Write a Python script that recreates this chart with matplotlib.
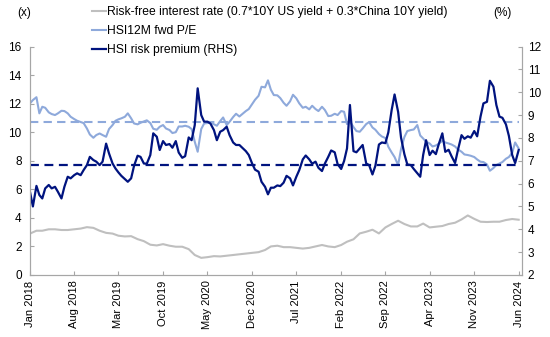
import numpy as np
import pandas as pd
import matplotlib
matplotlib.use("Agg")
import matplotlib.pyplot as plt
import matplotlib.dates as mdates

plt.rcParams['font.family'] = ['Liberation Sans', 'DejaVu Sans']
plt.rcParams['font.size'] = 9

# dates: 1st and 15th of each month (P/E, risk premium), month starts (risk-free)
half_month = pd.date_range('2018-01-01', periods=155, freq='SMS')
month = pd.date_range('2018-01-01', periods=78, freq='MS')

# HSI 12M fwd P/E (x), left axis
pe = [
    12.02, 12.25, 12.45, 11.32, 11.78, 11.71, 11.39, 11.27, 11.2, 11.32, 11.5, 11.48,
    11.32, 11.08, 10.92, 10.8, 10.71, 10.64, 10.26, 9.84, 9.61, 9.8, 9.91, 9.8,
    9.68, 10.22, 10.5, 10.8, 10.9, 10.97, 11.08, 11.32, 10.97, 10.61, 10.55, 10.66,
    10.75, 10.83, 10.64, 10.24, 10.17, 10.38, 10.5, 10.26, 10.15, 9.94, 10.0, 10.4,
    10.4, 10.45, 10.38, 10.22, 9.33, 8.63, 10.22, 10.61, 10.64, 10.68, 10.55, 10.45,
    10.78, 11.03, 10.5, 10.73, 11.06, 11.29, 11.1, 11.27, 11.48, 11.62, 11.97, 12.27,
    12.55, 13.18, 13.14, 13.63, 12.97, 12.6, 12.58, 12.39, 12.06, 11.85, 12.16, 12.62,
    12.37, 12.02, 11.71, 11.78, 11.6, 11.85, 11.62, 11.48, 11.78, 11.55, 11.13, 11.15,
    11.29, 11.2, 11.48, 11.43, 10.57, 10.75, 10.36, 10.08, 10.03, 10.26, 10.57, 10.71,
    10.33, 10.17, 9.87, 9.7, 9.59, 8.98, 8.58, 8.26, 7.7, 8.82, 9.66, 10.08,
    10.15, 10.19, 10.5, 9.77, 9.56, 9.33, 9.21, 9.0, 9.07, 9.19, 9.4, 9.28,
    9.21, 9.14, 9.0, 8.79, 8.63, 8.44, 8.4, 8.35, 8.26, 8.09, 7.93, 7.91,
    7.74, 7.3, 7.49, 7.7, 7.81, 7.91, 8.14, 8.26, 8.56, 9.28, 8.86,
]

# HSI risk premium (%), right axis
risk_premium = [
    5.64, 5.0, 5.9, 5.5, 5.35, 5.79, 5.94, 5.79, 5.86, 5.64, 5.35, 5.86,
    6.3, 6.23, 6.37, 6.45, 6.37, 6.59, 6.81, 7.17, 7.03, 6.96, 6.81, 6.96,
    7.75, 7.32, 6.88, 6.66, 6.49, 6.34, 6.2, 6.08, 6.23, 6.78, 7.22, 7.17,
    6.88, 6.87, 7.25, 8.2, 8.05, 7.47, 7.86, 7.69, 7.73, 7.57, 7.86, 7.36,
    7.13, 7.2, 8.02, 7.9, 8.56, 10.17, 9.0, 8.71, 8.71, 8.63, 8.34, 7.9,
    8.27, 8.34, 8.49, 8.12, 7.8, 7.69, 7.69, 7.57, 7.42, 7.25, 6.88, 6.61,
    6.52, 6.08, 5.86, 5.53, 5.82, 5.82, 5.92, 5.89, 6.04, 6.34, 6.23, 5.92,
    6.3, 6.59, 7.06, 7.23, 7.06, 6.87, 6.96, 6.69, 6.55, 6.88, 7.17, 7.45,
    7.37, 6.85, 6.64, 6.99, 7.54, 9.44, 7.42, 7.37, 7.54, 7.69, 6.88, 6.81,
    6.4, 6.78, 7.71, 7.8, 7.77, 8.24, 9.22, 9.9, 9.14, 8.01, 7.29, 6.84,
    6.81, 6.64, 6.45, 6.3, 7.25, 7.9, 7.25, 7.44, 7.29, 7.73, 8.2, 7.39,
    7.48, 7.2, 6.9, 7.48, 8.12, 7.96, 8.07, 8.01, 8.3, 8.07, 8.93, 9.51,
    9.58, 10.5, 10.24, 9.44, 8.93, 8.88, 8.59, 8.09, 7.25, 6.9, 7.47,
]

# risk-free rate (%), drawn on left axis
risk_free = [
    2.9, 3.1, 3.1, 3.2, 3.2, 3.15, 3.15, 3.2, 3.25, 3.35, 3.3, 3.1,
    2.95, 2.9, 2.75, 2.7, 2.72, 2.51, 2.37, 2.12, 2.07, 2.16, 2.05, 1.98,
    1.98, 1.81, 1.4, 1.2, 1.25, 1.32, 1.3, 1.35, 1.4, 1.45, 1.5, 1.55,
    1.6, 1.75, 2.0, 2.05, 1.95, 1.95, 1.9, 1.85, 1.9, 2.0, 2.1, 2.0,
    1.95, 2.1, 2.33, 2.5, 2.91, 3.03, 3.17, 2.91, 3.33, 3.57, 3.8, 3.57,
    3.4, 3.4, 3.6, 3.33, 3.38, 3.43, 3.57, 3.66, 3.89, 4.17, 3.93, 3.73,
    3.71, 3.73, 3.73, 3.85, 3.92, 3.87,
]

pe_avg = 10.73
rp_avg = 6.8

c_grey = '#BFBFBF'
c_light = '#8EA9DB'
c_navy = '#00137F'

fig = plt.figure(figsize=(5.5, 3.37), dpi=100)
ax = fig.add_axes([0.0545, 0.184, 0.895, 0.678])
ax2 = ax.twinx()

l1, = ax.plot(month, risk_free, color=c_grey, lw=1.5,
              label='Risk-free interest rate (0.7*10Y US yield + 0.3*China 10Y yield)')
l2, = ax.plot(half_month, pe, color=c_light, lw=1.5, label='HSI12M fwd P/E')
ax.hlines(pe_avg, half_month[0], half_month[-1], color=c_light, lw=1.5, linestyles=(0, (4, 2.5)))

l3, = ax2.plot(half_month, risk_premium, color=c_navy, lw=1.6, label='HSI risk premium (RHS)')
ax2.hlines(rp_avg, half_month[0], half_month[-1], color=c_navy, lw=1.6, linestyles=(0, (4, 2.5)))

ax.set_ylim(0, 16)
ax.set_yticks(np.arange(0, 17, 2))
ax2.set_ylim(2, 12)
ax2.set_yticks(np.arange(2, 13, 1))
ax.set_xlim(pd.Timestamp('2018-01-01'), pd.Timestamp('2024-06-18'))

ticks = pd.date_range('2018-01-01', '2024-06-01', freq='7MS')
ax.set_xticks(ticks)
ax.xaxis.set_major_formatter(mdates.DateFormatter('%b %Y'))
for lab in ax.get_xticklabels():
    lab.set_rotation(90)

for a in (ax, ax2):
    a.spines['top'].set_visible(False)
    for s in ('left', 'right', 'bottom'):
        a.spines[s].set_color('#A6A6A6')
    a.tick_params(direction='in', length=3, color='#A6A6A6', labelsize=8.5)
ax.tick_params(axis='x', labelsize=8, pad=4)
ax.tick_params(axis='y', pad=6)
ax2.tick_params(axis='y', pad=4)

fig.text(0.0436, 0.962, '(x)', ha='center', va='center', fontsize=8.5)
fig.text(0.913, 0.962, '(%)', ha='center', va='center', fontsize=8.5)

fig.legend(handles=[l1, l2, l3], loc='upper left', bbox_to_anchor=(0.158, 0.997),
           frameon=False, handlelength=1.2, handletextpad=0.05, labelspacing=0.6,
           fontsize=8.7, borderaxespad=0)

fig.savefig('out.png', dpi=100)
